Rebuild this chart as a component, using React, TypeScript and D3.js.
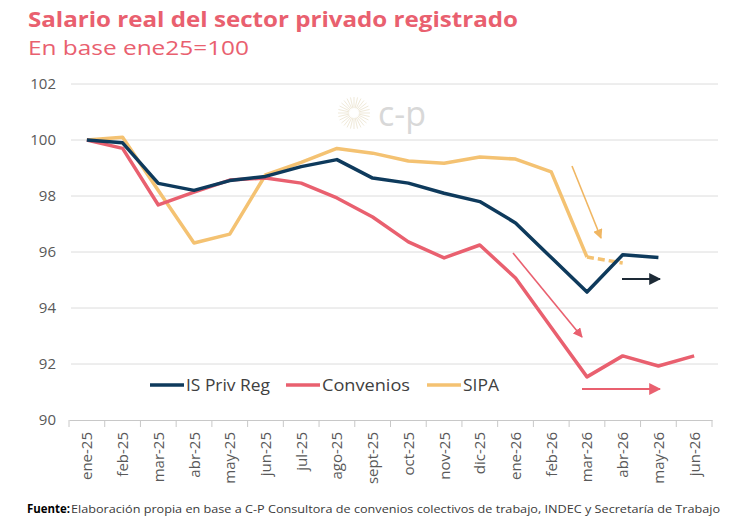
import React, { useEffect, useRef } from "react";
import * as d3 from "d3";

const months = ["ene-25", "feb-25", "mar-25", "abr-25", "may-25", "jun-25", "jul-25", "ago-25", "sept-25", "oct-25", "nov-25", "dic-25", "ene-26", "feb-26", "mar-26", "abr-26", "may-26", "jun-26"];

const isPrivReg = [100, 99.9, 98.45, 98.2, 98.55, 98.7, 99.05, 99.3, 98.64, 98.46, 98.1, 97.8, 97.04, 95.8, 94.57, 95.9, 95.8];
const convenios = [100, 99.7, 97.68, 98.14, 98.57, 98.64, 98.46, 97.93, 97.25, 96.36, 95.79, 96.25, 95.07, 93.3, 91.54, 92.29, 91.93, 92.29];
const sipa = [100, 100.1, 98.2, 96.32, 96.64, 98.75, 99.2, 99.7, 99.53, 99.25, 99.17, 99.39, 99.32, 98.86, 95.82];
// sipa estimate for abr-26, drawn dashed
const sipaDashed = [95.82, 95.61];

const yTicks = [90, 92, 94, 96, 98, 100, 102];

const NAVY = "#0e3a5c";
const PINK = "#e9606f";
const YELLOW = "#f4c272";
const FONT = "Open Sans, sans-serif";

function App() {
  const svgRef = useRef<SVGSVGElement>(null);

  useEffect(() => {
    const width = 730;
    const height = 525;
    const svg = d3.select(svgRef.current).attr("width", width).attr("height", height);
    svg.selectAll("*").remove();

    const x = d3.scaleBand().domain(months).range([69, 712]);
    const y = d3.scaleLinear().domain([90, 102]).range([420, 84]);
    const cx = (i: number) => (x(months[i]) as number) + x.bandwidth() / 2;

    // titles
    svg.append("text").attr("x", 28).attr("y", 27)
      .attr("font-family", FONT).attr("font-weight", 700)
      .attr("font-size", 21).attr("fill", PINK)
      .attr("textLength", 490).attr("lengthAdjust", "spacingAndGlyphs")
      .text("Salario real del sector privado registrado");
    svg.append("text").attr("x", 28).attr("y", 55)
      .attr("font-family", FONT)
      .attr("font-size", 19.5).attr("fill", PINK)
      .attr("textLength", 221).attr("lengthAdjust", "spacingAndGlyphs")
      .text("En base ene25=100");

    // gridlines
    svg.append("g").selectAll("line").data(yTicks.filter(t => t > 90)).join("line")
      .attr("x1", 71).attr("x2", 718)
      .attr("y1", d => y(d)).attr("y2", d => y(d))
      .attr("stroke", "#dcdcdc").attr("stroke-width", 1);

    svg.append("g").selectAll("text").data(yTicks).join("text")
      .attr("x", 56).attr("y", d => y(d) + 5).attr("text-anchor", "end")
      .attr("font-family", FONT).attr("font-size", 15).attr("fill", "#595959")
      .text(d => d);

    // watermark logo
    const logo = svg.append("g").attr("transform", "translate(354,113)").attr("opacity", 0.35);
    d3.range(28).forEach(k => {
      const a = (k / 28) * Math.PI * 2;
      logo.append("line")
        .attr("x1", Math.cos(a) * 5).attr("y1", Math.sin(a) * 5)
        .attr("x2", Math.cos(a) * 16).attr("y2", Math.sin(a) * 16)
        .attr("stroke", "#c9b27a").attr("stroke-width", 0.8);
    });
    svg.append("text").attr("x", 378).attr("y", 126)
      .attr("font-family", FONT).attr("font-size", 34).attr("fill", "#d8d8d8")
      .text("c-p");

    // x axis
    const xAxis = svg.append("g").attr("transform", "translate(0,420)")
      .call(d3.axisBottom(x).tickSize(0).tickFormat(() => ""));
    xAxis.select(".domain").attr("stroke", "#c8c8c8");
    svg.append("g").selectAll("line").data(d3.range(months.length + 1)).join("line")
      .attr("x1", i => 69 + i * x.bandwidth()).attr("x2", i => 69 + i * x.bandwidth())
      .attr("y1", 420).attr("y2", 427).attr("stroke", "#c8c8c8");
    svg.append("g").selectAll("text").data(months).join("text")
      .attr("transform", (d, i) => `translate(${cx(i) + 5.5},432) rotate(-90)`)
      .attr("text-anchor", "end")
      .attr("font-family", FONT).attr("font-size", 15).attr("fill", "#595959")
      .text(d => d);

    const line = d3.line<number>().x((d, i) => cx(i)).y(d => y(d));

    const drawSeries = (data: number[], color: string) =>
      svg.append("path").datum(data).attr("d", line)
        .attr("fill", "none").attr("stroke", color).attr("stroke-width", 3.5)
        .attr("stroke-linejoin", "round");

    drawSeries(sipa, YELLOW);
    svg.append("path").datum(sipaDashed)
      .attr("d", d3.line<number>().x((d, i) => cx(14 + i)).y(d => y(d)))
      .attr("fill", "none").attr("stroke", YELLOW).attr("stroke-width", 3.5)
      .attr("stroke-dasharray", "7,4");
    drawSeries(convenios, PINK);
    drawSeries(isPrivReg, NAVY);

    // annotation arrows
    const defs = svg.append("defs");
    const marker = (id: string, color: string) => {
      defs.append("marker").attr("id", id).attr("viewBox", "0 0 10 10")
        .attr("refX", 9).attr("refY", 5).attr("markerWidth", 6).attr("markerHeight", 6)
        .attr("markerUnits", "strokeWidth").attr("orient", "auto")
        .append("path").attr("d", "M0,0 L10,5 L0,10 Z").attr("fill", color);
    };
    marker("arrowYellow", "#f0b662");
    marker("arrowPink", PINK);
    marker("arrowNavy", "#1d2a36");

    const arrow = (x1: number, y1: number, x2: number, y2: number, color: string, id: string, w: number) =>
      svg.append("line").attr("x1", x1).attr("y1", y1).attr("x2", x2).attr("y2", y2)
        .attr("stroke", color).attr("stroke-width", w).attr("marker-end", `url(#${id})`);

    arrow(572, 166, 601, 238, "#f0b662", "arrowYellow", 1.6);
    arrow(513, 253, 582, 337, PINK, "arrowPink", 1.6);
    arrow(622, 279, 660, 279, "#1d2a36", "arrowNavy", 2);
    arrow(582, 389, 660, 389, PINK, "arrowPink", 2);

    // legend
    const legend = [
      { name: "IS Priv Reg", color: NAVY, x: 150, w: 84 },
      { name: "Convenios", color: PINK, x: 286, w: 88 },
      { name: "SIPA", color: YELLOW, x: 427, w: 36 },
    ];
    const lg = svg.append("g");
    legend.forEach(l => {
      lg.append("line").attr("x1", l.x).attr("x2", l.x + 34).attr("y1", 385).attr("y2", 385)
        .attr("stroke", l.color).attr("stroke-width", 3.5);
      lg.append("text").attr("x", l.x + 36).attr("y", 390.5)
        .attr("font-family", FONT).attr("font-size", 15.5).attr("fill", "#404040")
        .attr("textLength", l.w).attr("lengthAdjust", "spacingAndGlyphs")
        .text(l.name);
    });

    // source note
    svg.append("text").attr("x", 27).attr("y", 513)
      .attr("font-family", FONT).attr("font-size", 11.5).attr("font-weight", 700).attr("fill", "#000")
      .attr("textLength", 43).attr("lengthAdjust", "spacingAndGlyphs")
      .text("Fuente:");
    svg.append("text").attr("x", 71).attr("y", 513)
      .attr("font-family", FONT).attr("font-size", 11.5).attr("fill", "#3a3a3a")
      .attr("textLength", 649).attr("lengthAdjust", "spacingAndGlyphs")
      .text("Elaboración propia en base a C-P Consultora de convenios colectivos de trabajo, INDEC y Secretaría de Trabajo");
  }, []);

  return (
    <div style={{ position: "absolute", left: 0, top: 0 }}>
      <svg ref={svgRef}></svg>
    </div>
  );
}

export default App;
